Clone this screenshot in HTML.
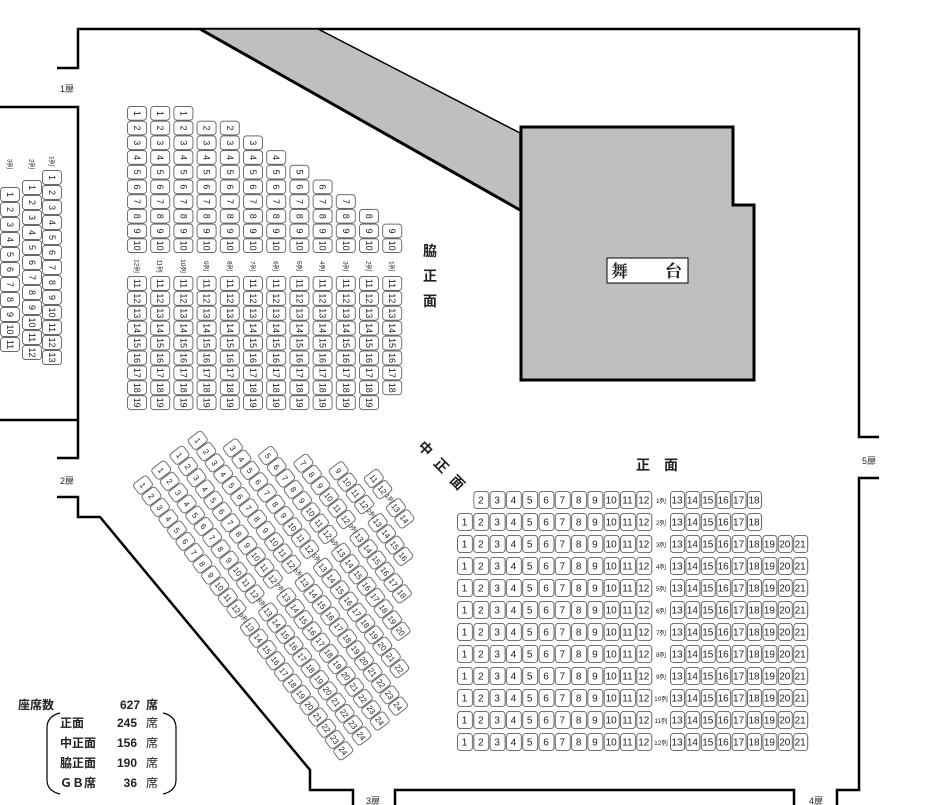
<!DOCTYPE html>
<html><head><meta charset="utf-8"><style>
body{margin:0;background:#fff}
svg{display:block}
text{font-family:"Liberation Sans","Noto Sans CJK JP",sans-serif;fill:#222}
.n{font-size:10px;text-anchor:middle}
.s{font-size:9px;text-anchor:middle}
.d{font-size:8px;text-anchor:middle}
.l{font-size:6.5px;text-anchor:middle}
.dr{font-size:9px}
.big{font-size:14px;font-weight:bold}
.lg{font-size:12px;font-weight:bold}
.lt{font-size:12px}
</style></head><body>
<svg width="945" height="805" viewBox="0 0 945 805" xmlns="http://www.w3.org/2000/svg">
<defs>
<pattern id="pf1" patternUnits="userSpaceOnUse" x="457" y="491" width="16.3" height="22"><rect x=".5" y=".5" width="15" height="17" rx="3" fill="#fff" stroke="#444" stroke-width=".8"/></pattern>
<pattern id="pf2" patternUnits="userSpaceOnUse" x="670" y="491" width="15.4" height="22"><rect x=".5" y=".5" width="14" height="17" rx="3" fill="#fff" stroke="#444" stroke-width=".8"/></pattern>
<pattern id="ps1" patternUnits="userSpaceOnUse" x="0" y="-10" width="14.7" height="20"><rect x=".5" y=".5" width="13.7" height="19" rx="3" fill="#fff" stroke="#444" stroke-width=".8"/></pattern>
<pattern id="ps2" patternUnits="userSpaceOnUse" x="0" y="-10" width="14.9" height="20"><rect x=".5" y=".5" width="13.9" height="19" rx="3" fill="#fff" stroke="#444" stroke-width=".8"/></pattern>
<pattern id="pg" patternUnits="userSpaceOnUse" x="0" y="-10" width="15" height="20"><rect x=".5" y=".5" width="14" height="19" rx="3" fill="#fff" stroke="#444" stroke-width=".8"/></pattern>
<pattern id="pd" patternUnits="userSpaceOnUse" x="0" y="-9" width="14.1" height="18"><rect x=".6" y=".5" width="12.9" height="17" rx="3" fill="#fff" stroke="#444" stroke-width=".8"/></pattern>
</defs>

<!-- walls -->
<g fill="none" stroke="#000" stroke-width="2.5">
<polyline points="57,68 78,68 78,29 859,29 859,437 879,437"/>
<polyline points="879,478 859,478 859,790 837,790 837,805"/>
<polyline points="395,805 395,790 794,790 794,805"/>
<polyline points="353,805 353,790 310,790 310,770 100,517 78,517 78,497 57,497"/>
<polyline points="0,107 78,107 78,458 57,458"/>
<line x1="0" y1="420" x2="78" y2="420"/>
</g>
<!-- bridge & stage -->
<polygon points="200,29 318,29 520,133 520,210" fill="#bfbfbf" stroke="#000" stroke-width="1.5"/>
<line x1="200" y1="29" x2="520" y2="210" stroke="#000" stroke-width="3"/>
<polygon points="521,127 733,127 733,205 754,205 754,380 521,380" fill="#bfbfbf" stroke="#000" stroke-width="3"/>
<rect x="607" y="258" width="81" height="25" fill="#fff" stroke="#000" stroke-width="1"/>
<text x="611" y="277" style="font-size:17px;font-weight:bold;font-family:'Noto Serif CJK SC','Noto Sans CJK JP',serif">舞</text>
<text x="665" y="277" style="font-size:17px;font-weight:bold;font-family:'Noto Serif CJK SC','Noto Sans CJK JP',serif">台</text>

<!-- door labels -->
<text class="dr" x="60" y="92">1扉</text>
<text class="dr" x="60" y="484">2扉</text>
<text class="dr" x="366" y="804">3扉</text>
<text class="dr" x="809" y="804">4扉</text>
<text class="dr" x="862" y="464">5扉</text>

<!-- section labels -->
<text class="big" x="423" y="256">脇</text>
<text class="big" x="423" y="281">正</text>
<text class="big" x="423" y="306">面</text>
<text class="big" x="636" y="470">正</text>
<text class="big" x="664" y="470">面</text>
<text class="big" transform="translate(422,452) rotate(45)" text-anchor="middle">中</text>
<text class="big" transform="translate(438,469) rotate(45)" text-anchor="middle">正</text>
<text class="big" transform="translate(454,486) rotate(45)" text-anchor="middle">面</text>

<!-- FRONT 正面 -->
<rect x="473.3" y="491" width="179.3" height="18" fill="url(#pf1)"/>
<rect x="670" y="491" width="92.4" height="18" fill="url(#pf2)"/>
<rect x="457" y="513" width="195.6" height="18" fill="url(#pf1)"/>
<rect x="670" y="513" width="92.4" height="18" fill="url(#pf2)"/>
<rect x="457" y="535" width="195.6" height="220" fill="url(#pf1)"/>
<rect x="670" y="535" width="138.6" height="220" fill="url(#pf2)"/>
<g transform="translate(0,503.5)">
<text class="n"><tspan x="480.8">2</tspan><tspan x="497.1">3</tspan><tspan x="513.4">4</tspan><tspan x="529.7">5</tspan><tspan x="546">6</tspan><tspan x="562.3">7</tspan><tspan x="578.6">8</tspan><tspan x="594.9">9</tspan><tspan x="611.2">10</tspan><tspan x="627.5">11</tspan><tspan x="643.8">12</tspan><tspan x="677">13</tspan><tspan x="692.4">14</tspan><tspan x="707.8">15</tspan><tspan x="723.2">16</tspan><tspan x="738.6">17</tspan><tspan x="754">18</tspan></text><text class="l" x="661" y="-0.5">1列</text></g>
<g transform="translate(0,525.5)">
<text class="n"><tspan x="464.5">1</tspan><tspan x="480.8">2</tspan><tspan x="497.1">3</tspan><tspan x="513.4">4</tspan><tspan x="529.7">5</tspan><tspan x="546">6</tspan><tspan x="562.3">7</tspan><tspan x="578.6">8</tspan><tspan x="594.9">9</tspan><tspan x="611.2">10</tspan><tspan x="627.5">11</tspan><tspan x="643.8">12</tspan><tspan x="677">13</tspan><tspan x="692.4">14</tspan><tspan x="707.8">15</tspan><tspan x="723.2">16</tspan><tspan x="738.6">17</tspan><tspan x="754">18</tspan></text><text class="l" x="661" y="-0.5">2列</text></g>
<g transform="translate(0,547.5)"><text class="n"><tspan x="464.5">1</tspan><tspan x="480.8">2</tspan><tspan x="497.1">3</tspan><tspan x="513.4">4</tspan><tspan x="529.7">5</tspan><tspan x="546">6</tspan><tspan x="562.3">7</tspan><tspan x="578.6">8</tspan><tspan x="594.9">9</tspan><tspan x="611.2">10</tspan><tspan x="627.5">11</tspan><tspan x="643.8">12</tspan><tspan x="677">13</tspan><tspan x="692.4">14</tspan><tspan x="707.8">15</tspan><tspan x="723.2">16</tspan><tspan x="738.6">17</tspan><tspan x="754">18</tspan><tspan x="769.4">19</tspan><tspan x="784.8">20</tspan><tspan x="800.2">21</tspan></text><text class="l" x="661" y="-0.5">3列</text></g>
<g transform="translate(0,569.5)"><text class="n"><tspan x="464.5">1</tspan><tspan x="480.8">2</tspan><tspan x="497.1">3</tspan><tspan x="513.4">4</tspan><tspan x="529.7">5</tspan><tspan x="546">6</tspan><tspan x="562.3">7</tspan><tspan x="578.6">8</tspan><tspan x="594.9">9</tspan><tspan x="611.2">10</tspan><tspan x="627.5">11</tspan><tspan x="643.8">12</tspan><tspan x="677">13</tspan><tspan x="692.4">14</tspan><tspan x="707.8">15</tspan><tspan x="723.2">16</tspan><tspan x="738.6">17</tspan><tspan x="754">18</tspan><tspan x="769.4">19</tspan><tspan x="784.8">20</tspan><tspan x="800.2">21</tspan></text><text class="l" x="661" y="-0.5">4列</text></g>
<g transform="translate(0,591.5)"><text class="n"><tspan x="464.5">1</tspan><tspan x="480.8">2</tspan><tspan x="497.1">3</tspan><tspan x="513.4">4</tspan><tspan x="529.7">5</tspan><tspan x="546">6</tspan><tspan x="562.3">7</tspan><tspan x="578.6">8</tspan><tspan x="594.9">9</tspan><tspan x="611.2">10</tspan><tspan x="627.5">11</tspan><tspan x="643.8">12</tspan><tspan x="677">13</tspan><tspan x="692.4">14</tspan><tspan x="707.8">15</tspan><tspan x="723.2">16</tspan><tspan x="738.6">17</tspan><tspan x="754">18</tspan><tspan x="769.4">19</tspan><tspan x="784.8">20</tspan><tspan x="800.2">21</tspan></text><text class="l" x="661" y="-0.5">5列</text></g>
<g transform="translate(0,613.5)"><text class="n"><tspan x="464.5">1</tspan><tspan x="480.8">2</tspan><tspan x="497.1">3</tspan><tspan x="513.4">4</tspan><tspan x="529.7">5</tspan><tspan x="546">6</tspan><tspan x="562.3">7</tspan><tspan x="578.6">8</tspan><tspan x="594.9">9</tspan><tspan x="611.2">10</tspan><tspan x="627.5">11</tspan><tspan x="643.8">12</tspan><tspan x="677">13</tspan><tspan x="692.4">14</tspan><tspan x="707.8">15</tspan><tspan x="723.2">16</tspan><tspan x="738.6">17</tspan><tspan x="754">18</tspan><tspan x="769.4">19</tspan><tspan x="784.8">20</tspan><tspan x="800.2">21</tspan></text><text class="l" x="661" y="-0.5">6列</text></g>
<g transform="translate(0,635.5)"><text class="n"><tspan x="464.5">1</tspan><tspan x="480.8">2</tspan><tspan x="497.1">3</tspan><tspan x="513.4">4</tspan><tspan x="529.7">5</tspan><tspan x="546">6</tspan><tspan x="562.3">7</tspan><tspan x="578.6">8</tspan><tspan x="594.9">9</tspan><tspan x="611.2">10</tspan><tspan x="627.5">11</tspan><tspan x="643.8">12</tspan><tspan x="677">13</tspan><tspan x="692.4">14</tspan><tspan x="707.8">15</tspan><tspan x="723.2">16</tspan><tspan x="738.6">17</tspan><tspan x="754">18</tspan><tspan x="769.4">19</tspan><tspan x="784.8">20</tspan><tspan x="800.2">21</tspan></text><text class="l" x="661" y="-0.5">7列</text></g>
<g transform="translate(0,657.5)"><text class="n"><tspan x="464.5">1</tspan><tspan x="480.8">2</tspan><tspan x="497.1">3</tspan><tspan x="513.4">4</tspan><tspan x="529.7">5</tspan><tspan x="546">6</tspan><tspan x="562.3">7</tspan><tspan x="578.6">8</tspan><tspan x="594.9">9</tspan><tspan x="611.2">10</tspan><tspan x="627.5">11</tspan><tspan x="643.8">12</tspan><tspan x="677">13</tspan><tspan x="692.4">14</tspan><tspan x="707.8">15</tspan><tspan x="723.2">16</tspan><tspan x="738.6">17</tspan><tspan x="754">18</tspan><tspan x="769.4">19</tspan><tspan x="784.8">20</tspan><tspan x="800.2">21</tspan></text><text class="l" x="661" y="-0.5">8列</text></g>
<g transform="translate(0,679.5)"><text class="n"><tspan x="464.5">1</tspan><tspan x="480.8">2</tspan><tspan x="497.1">3</tspan><tspan x="513.4">4</tspan><tspan x="529.7">5</tspan><tspan x="546">6</tspan><tspan x="562.3">7</tspan><tspan x="578.6">8</tspan><tspan x="594.9">9</tspan><tspan x="611.2">10</tspan><tspan x="627.5">11</tspan><tspan x="643.8">12</tspan><tspan x="677">13</tspan><tspan x="692.4">14</tspan><tspan x="707.8">15</tspan><tspan x="723.2">16</tspan><tspan x="738.6">17</tspan><tspan x="754">18</tspan><tspan x="769.4">19</tspan><tspan x="784.8">20</tspan><tspan x="800.2">21</tspan></text><text class="l" x="661" y="-0.5">9列</text></g>
<g transform="translate(0,701.5)"><text class="n"><tspan x="464.5">1</tspan><tspan x="480.8">2</tspan><tspan x="497.1">3</tspan><tspan x="513.4">4</tspan><tspan x="529.7">5</tspan><tspan x="546">6</tspan><tspan x="562.3">7</tspan><tspan x="578.6">8</tspan><tspan x="594.9">9</tspan><tspan x="611.2">10</tspan><tspan x="627.5">11</tspan><tspan x="643.8">12</tspan><tspan x="677">13</tspan><tspan x="692.4">14</tspan><tspan x="707.8">15</tspan><tspan x="723.2">16</tspan><tspan x="738.6">17</tspan><tspan x="754">18</tspan><tspan x="769.4">19</tspan><tspan x="784.8">20</tspan><tspan x="800.2">21</tspan></text><text class="l" x="661" y="-0.5">10列</text></g>
<g transform="translate(0,723.5)"><text class="n"><tspan x="464.5">1</tspan><tspan x="480.8">2</tspan><tspan x="497.1">3</tspan><tspan x="513.4">4</tspan><tspan x="529.7">5</tspan><tspan x="546">6</tspan><tspan x="562.3">7</tspan><tspan x="578.6">8</tspan><tspan x="594.9">9</tspan><tspan x="611.2">10</tspan><tspan x="627.5">11</tspan><tspan x="643.8">12</tspan><tspan x="677">13</tspan><tspan x="692.4">14</tspan><tspan x="707.8">15</tspan><tspan x="723.2">16</tspan><tspan x="738.6">17</tspan><tspan x="754">18</tspan><tspan x="769.4">19</tspan><tspan x="784.8">20</tspan><tspan x="800.2">21</tspan></text><text class="l" x="661" y="-0.5">11列</text></g>
<g transform="translate(0,745.5)"><text class="n"><tspan x="464.5">1</tspan><tspan x="480.8">2</tspan><tspan x="497.1">3</tspan><tspan x="513.4">4</tspan><tspan x="529.7">5</tspan><tspan x="546">6</tspan><tspan x="562.3">7</tspan><tspan x="578.6">8</tspan><tspan x="594.9">9</tspan><tspan x="611.2">10</tspan><tspan x="627.5">11</tspan><tspan x="643.8">12</tspan><tspan x="677">13</tspan><tspan x="692.4">14</tspan><tspan x="707.8">15</tspan><tspan x="723.2">16</tspan><tspan x="738.6">17</tspan><tspan x="754">18</tspan><tspan x="769.4">19</tspan><tspan x="784.8">20</tspan><tspan x="800.2">21</tspan></text><text class="l" x="661" y="-0.5">12列</text></g>

<!-- SIDE 脇正面 -->
<g transform="translate(137,106) rotate(90)"><rect x="0" y="-10" width="147" height="20" fill="url(#ps1)"/><text class="s" y="3"><tspan x="7.35">1</tspan><tspan x="22.05">2</tspan><tspan x="36.75">3</tspan><tspan x="51.45">4</tspan><tspan x="66.15">5</tspan><tspan x="80.85">6</tspan><tspan x="95.55">7</tspan><tspan x="110.25">8</tspan><tspan x="124.95">9</tspan><tspan x="139.65">10</tspan></text><text class="l" x="160" y="2.5">12列</text></g>
<g transform="translate(160.2,106) rotate(90)"><rect x="0" y="-10" width="147" height="20" fill="url(#ps1)"/><text class="s" y="3"><tspan x="7.35">1</tspan><tspan x="22.05">2</tspan><tspan x="36.75">3</tspan><tspan x="51.45">4</tspan><tspan x="66.15">5</tspan><tspan x="80.85">6</tspan><tspan x="95.55">7</tspan><tspan x="110.25">8</tspan><tspan x="124.95">9</tspan><tspan x="139.65">10</tspan></text><text class="l" x="160" y="2.5">11列</text></g>
<g transform="translate(183.4,106) rotate(90)"><rect x="0" y="-10" width="147" height="20" fill="url(#ps1)"/><text class="s" y="3"><tspan x="7.35">1</tspan><tspan x="22.05">2</tspan><tspan x="36.75">3</tspan><tspan x="51.45">4</tspan><tspan x="66.15">5</tspan><tspan x="80.85">6</tspan><tspan x="95.55">7</tspan><tspan x="110.25">8</tspan><tspan x="124.95">9</tspan><tspan x="139.65">10</tspan></text><text class="l" x="160" y="2.5">10列</text></g>
<g transform="translate(206.6,106) rotate(90)"><rect x="14.7" y="-10" width="132.3" height="20" fill="url(#ps1)"/><text class="s" y="3"><tspan x="22.05">2</tspan><tspan x="36.75">3</tspan><tspan x="51.45">4</tspan><tspan x="66.15">5</tspan><tspan x="80.85">6</tspan><tspan x="95.55">7</tspan><tspan x="110.25">8</tspan><tspan x="124.95">9</tspan><tspan x="139.65">10</tspan></text><text class="l" x="160" y="2.5">9列</text></g>
<g transform="translate(229.8,106) rotate(90)"><rect x="14.7" y="-10" width="132.3" height="20" fill="url(#ps1)"/><text class="s" y="3"><tspan x="22.05">2</tspan><tspan x="36.75">3</tspan><tspan x="51.45">4</tspan><tspan x="66.15">5</tspan><tspan x="80.85">6</tspan><tspan x="95.55">7</tspan><tspan x="110.25">8</tspan><tspan x="124.95">9</tspan><tspan x="139.65">10</tspan></text><text class="l" x="160" y="2.5">8列</text></g>
<g transform="translate(253,106) rotate(90)"><rect x="29.4" y="-10" width="117.6" height="20" fill="url(#ps1)"/><text class="s" y="3"><tspan x="36.75">3</tspan><tspan x="51.45">4</tspan><tspan x="66.15">5</tspan><tspan x="80.85">6</tspan><tspan x="95.55">7</tspan><tspan x="110.25">8</tspan><tspan x="124.95">9</tspan><tspan x="139.65">10</tspan></text><text class="l" x="160" y="2.5">7列</text></g>
<g transform="translate(276.2,106) rotate(90)"><rect x="44.1" y="-10" width="102.9" height="20" fill="url(#ps1)"/><text class="s" y="3"><tspan x="51.45">4</tspan><tspan x="66.15">5</tspan><tspan x="80.85">6</tspan><tspan x="95.55">7</tspan><tspan x="110.25">8</tspan><tspan x="124.95">9</tspan><tspan x="139.65">10</tspan></text><text class="l" x="160" y="2.5">6列</text></g>
<g transform="translate(299.4,106) rotate(90)"><rect x="58.8" y="-10" width="88.2" height="20" fill="url(#ps1)"/><text class="s" y="3"><tspan x="66.15">5</tspan><tspan x="80.85">6</tspan><tspan x="95.55">7</tspan><tspan x="110.25">8</tspan><tspan x="124.95">9</tspan><tspan x="139.65">10</tspan></text><text class="l" x="160" y="2.5">5列</text></g>
<g transform="translate(322.6,106) rotate(90)"><rect x="73.5" y="-10" width="73.5" height="20" fill="url(#ps1)"/><text class="s" y="3"><tspan x="80.85">6</tspan><tspan x="95.55">7</tspan><tspan x="110.25">8</tspan><tspan x="124.95">9</tspan><tspan x="139.65">10</tspan></text><text class="l" x="160" y="2.5">4列</text></g>
<g transform="translate(345.8,106) rotate(90)"><rect x="88.2" y="-10" width="58.8" height="20" fill="url(#ps1)"/><text class="s" y="3"><tspan x="95.55">7</tspan><tspan x="110.25">8</tspan><tspan x="124.95">9</tspan><tspan x="139.65">10</tspan></text><text class="l" x="160" y="2.5">3列</text></g>
<g transform="translate(369,106) rotate(90)"><rect x="102.9" y="-10" width="44.1" height="20" fill="url(#ps1)"/><text class="s" y="3"><tspan x="110.25">8</tspan><tspan x="124.95">9</tspan><tspan x="139.65">10</tspan></text><text class="l" x="160" y="2.5">2列</text></g>
<g transform="translate(392.2,106) rotate(90)"><rect x="117.6" y="-10" width="29.4" height="20" fill="url(#ps1)"/><text class="s" y="3"><tspan x="124.95">9</tspan><tspan x="139.65">10</tspan></text><text class="l" x="160" y="2.5">1列</text></g>

<g transform="translate(137,276) rotate(90)"><rect x="0" y="-10" width="134.1" height="20" fill="url(#ps2)"/><text class="s" y="3"><tspan x="7.45">11</tspan><tspan x="22.35">12</tspan><tspan x="37.25">13</tspan><tspan x="52.15">14</tspan><tspan x="67.05">15</tspan><tspan x="81.95">16</tspan><tspan x="96.85">17</tspan><tspan x="111.75">18</tspan><tspan x="126.65">19</tspan></text></g>
<g transform="translate(160.2,276) rotate(90)"><rect x="0" y="-10" width="134.1" height="20" fill="url(#ps2)"/><text class="s" y="3"><tspan x="7.45">11</tspan><tspan x="22.35">12</tspan><tspan x="37.25">13</tspan><tspan x="52.15">14</tspan><tspan x="67.05">15</tspan><tspan x="81.95">16</tspan><tspan x="96.85">17</tspan><tspan x="111.75">18</tspan><tspan x="126.65">19</tspan></text></g>
<g transform="translate(183.4,276) rotate(90)"><rect x="0" y="-10" width="134.1" height="20" fill="url(#ps2)"/><text class="s" y="3"><tspan x="7.45">11</tspan><tspan x="22.35">12</tspan><tspan x="37.25">13</tspan><tspan x="52.15">14</tspan><tspan x="67.05">15</tspan><tspan x="81.95">16</tspan><tspan x="96.85">17</tspan><tspan x="111.75">18</tspan><tspan x="126.65">19</tspan></text></g>
<g transform="translate(206.6,276) rotate(90)"><rect x="0" y="-10" width="134.1" height="20" fill="url(#ps2)"/><text class="s" y="3"><tspan x="7.45">11</tspan><tspan x="22.35">12</tspan><tspan x="37.25">13</tspan><tspan x="52.15">14</tspan><tspan x="67.05">15</tspan><tspan x="81.95">16</tspan><tspan x="96.85">17</tspan><tspan x="111.75">18</tspan><tspan x="126.65">19</tspan></text></g>
<g transform="translate(229.8,276) rotate(90)"><rect x="0" y="-10" width="134.1" height="20" fill="url(#ps2)"/><text class="s" y="3"><tspan x="7.45">11</tspan><tspan x="22.35">12</tspan><tspan x="37.25">13</tspan><tspan x="52.15">14</tspan><tspan x="67.05">15</tspan><tspan x="81.95">16</tspan><tspan x="96.85">17</tspan><tspan x="111.75">18</tspan><tspan x="126.65">19</tspan></text></g>
<g transform="translate(253,276) rotate(90)"><rect x="0" y="-10" width="134.1" height="20" fill="url(#ps2)"/><text class="s" y="3"><tspan x="7.45">11</tspan><tspan x="22.35">12</tspan><tspan x="37.25">13</tspan><tspan x="52.15">14</tspan><tspan x="67.05">15</tspan><tspan x="81.95">16</tspan><tspan x="96.85">17</tspan><tspan x="111.75">18</tspan><tspan x="126.65">19</tspan></text></g>
<g transform="translate(276.2,276) rotate(90)"><rect x="0" y="-10" width="134.1" height="20" fill="url(#ps2)"/><text class="s" y="3"><tspan x="7.45">11</tspan><tspan x="22.35">12</tspan><tspan x="37.25">13</tspan><tspan x="52.15">14</tspan><tspan x="67.05">15</tspan><tspan x="81.95">16</tspan><tspan x="96.85">17</tspan><tspan x="111.75">18</tspan><tspan x="126.65">19</tspan></text></g>
<g transform="translate(299.4,276) rotate(90)"><rect x="0" y="-10" width="134.1" height="20" fill="url(#ps2)"/><text class="s" y="3"><tspan x="7.45">11</tspan><tspan x="22.35">12</tspan><tspan x="37.25">13</tspan><tspan x="52.15">14</tspan><tspan x="67.05">15</tspan><tspan x="81.95">16</tspan><tspan x="96.85">17</tspan><tspan x="111.75">18</tspan><tspan x="126.65">19</tspan></text></g>
<g transform="translate(322.6,276) rotate(90)"><rect x="0" y="-10" width="134.1" height="20" fill="url(#ps2)"/><text class="s" y="3"><tspan x="7.45">11</tspan><tspan x="22.35">12</tspan><tspan x="37.25">13</tspan><tspan x="52.15">14</tspan><tspan x="67.05">15</tspan><tspan x="81.95">16</tspan><tspan x="96.85">17</tspan><tspan x="111.75">18</tspan><tspan x="126.65">19</tspan></text></g>
<g transform="translate(345.8,276) rotate(90)"><rect x="0" y="-10" width="134.1" height="20" fill="url(#ps2)"/><text class="s" y="3"><tspan x="7.45">11</tspan><tspan x="22.35">12</tspan><tspan x="37.25">13</tspan><tspan x="52.15">14</tspan><tspan x="67.05">15</tspan><tspan x="81.95">16</tspan><tspan x="96.85">17</tspan><tspan x="111.75">18</tspan><tspan x="126.65">19</tspan></text></g>
<g transform="translate(369,276) rotate(90)"><rect x="0" y="-10" width="134.1" height="20" fill="url(#ps2)"/><text class="s" y="3"><tspan x="7.45">11</tspan><tspan x="22.35">12</tspan><tspan x="37.25">13</tspan><tspan x="52.15">14</tspan><tspan x="67.05">15</tspan><tspan x="81.95">16</tspan><tspan x="96.85">17</tspan><tspan x="111.75">18</tspan><tspan x="126.65">19</tspan></text></g>
<g transform="translate(392.2,276) rotate(90)"><rect x="0" y="-10" width="119.2" height="20" fill="url(#ps2)"/><text class="s" y="3"><tspan x="7.45">11</tspan><tspan x="22.35">12</tspan><tspan x="37.25">13</tspan><tspan x="52.15">14</tspan><tspan x="67.05">15</tspan><tspan x="81.95">16</tspan><tspan x="96.85">17</tspan><tspan x="111.75">18</tspan></text></g>

<!-- GB -->
<g transform="translate(52,170) rotate(90)"><rect x="0" y="-10" width="195" height="20" fill="url(#pg)"/><text class="s" y="3"><tspan x="7.5">1</tspan><tspan x="22.5">2</tspan><tspan x="37.5">3</tspan><tspan x="52.5">4</tspan><tspan x="67.5">5</tspan><tspan x="82.5">6</tspan><tspan x="97.5">7</tspan><tspan x="112.5">8</tspan><tspan x="127.5">9</tspan><tspan x="142.5">10</tspan><tspan x="157.5">11</tspan><tspan x="172.5">12</tspan><tspan x="187.5">13</tspan></text><text class="l" x="-9" y="2.5">1列</text></g>
<g transform="translate(32,180) rotate(90)"><rect x="0" y="-10" width="180" height="20" fill="url(#pg)"/><text class="s" y="3"><tspan x="7.5">1</tspan><tspan x="22.5">2</tspan><tspan x="37.5">3</tspan><tspan x="52.5">4</tspan><tspan x="67.5">5</tspan><tspan x="82.5">6</tspan><tspan x="97.5">7</tspan><tspan x="112.5">8</tspan><tspan x="127.5">9</tspan><tspan x="142.5">10</tspan><tspan x="157.5">11</tspan><tspan x="172.5">12</tspan></text><text class="l" x="-16" y="2.5">2列</text></g>
<g transform="translate(10,187) rotate(90)"><rect x="0" y="-10" width="165" height="20" fill="url(#pg)"/><text class="s" y="3"><tspan x="7.5">1</tspan><tspan x="22.5">2</tspan><tspan x="37.5">3</tspan><tspan x="52.5">4</tspan><tspan x="67.5">5</tspan><tspan x="82.5">6</tspan><tspan x="97.5">7</tspan><tspan x="112.5">8</tspan><tspan x="127.5">9</tspan><tspan x="142.5">10</tspan><tspan x="157.5">11</tspan></text><text class="l" x="-23" y="2.5">3列</text></g>

<!-- DIAGONAL 中正面 -->
<g transform="translate(289,365.8) rotate(53) translate(-7.05,0)"><rect x="141" y="-9" width="28.2" height="18" fill="url(#pd)"/><text class="d" y="3"><tspan x="148.05">11</tspan><tspan x="162.15">12</tspan></text><text class="l" x="173.5" y="2">1列</text><g transform="translate(177.7,0)"><rect x="0" y="-9" width="28.2" height="18" fill="url(#pd)"/><text class="d" y="3"><tspan x="7.05">13</tspan><tspan x="21.15">14</tspan></text></g></g>
<g transform="translate(270.75,380.7) rotate(53) translate(-7.05,0)"><rect x="112.8" y="-9" width="56.4" height="18" fill="url(#pd)"/><text class="d" y="3"><tspan x="119.85">9</tspan><tspan x="133.95">10</tspan><tspan x="148.05">11</tspan><tspan x="162.15">12</tspan></text><text class="l" x="173.5" y="2">2列</text><g transform="translate(177.7,0)"><rect x="0" y="-9" width="56.4" height="18" fill="url(#pd)"/><text class="d" y="3"><tspan x="7.05">13</tspan><tspan x="21.15">14</tspan><tspan x="35.25">15</tspan><tspan x="49.35">16</tspan></text></g></g>
<g transform="translate(252.5,395.6) rotate(53) translate(-7.05,0)"><rect x="84.6" y="-9" width="84.6" height="18" fill="url(#pd)"/><text class="d" y="3"><tspan x="91.65">7</tspan><tspan x="105.75">8</tspan><tspan x="119.85">9</tspan><tspan x="133.95">10</tspan><tspan x="148.05">11</tspan><tspan x="162.15">12</tspan></text><text class="l" x="173.5" y="2">3列</text><g transform="translate(177.7,0)"><rect x="0" y="-9" width="84.6" height="18" fill="url(#pd)"/><text class="d" y="3"><tspan x="7.05">13</tspan><tspan x="21.15">14</tspan><tspan x="35.25">15</tspan><tspan x="49.35">16</tspan><tspan x="63.45">17</tspan><tspan x="77.55">18</tspan></text></g></g>
<g transform="translate(234.25,410.5) rotate(53) translate(-7.05,0)"><rect x="56.4" y="-9" width="112.8" height="18" fill="url(#pd)"/><text class="d" y="3"><tspan x="63.45">5</tspan><tspan x="77.55">6</tspan><tspan x="91.65">7</tspan><tspan x="105.75">8</tspan><tspan x="119.85">9</tspan><tspan x="133.95">10</tspan><tspan x="148.05">11</tspan><tspan x="162.15">12</tspan></text><text class="l" x="173.5" y="2">4列</text><g transform="translate(177.7,0)"><rect x="0" y="-9" width="112.8" height="18" fill="url(#pd)"/><text class="d" y="3"><tspan x="7.05">13</tspan><tspan x="21.15">14</tspan><tspan x="35.25">15</tspan><tspan x="49.35">16</tspan><tspan x="63.45">17</tspan><tspan x="77.55">18</tspan><tspan x="91.65">19</tspan><tspan x="105.75">20</tspan></text></g></g>
<g transform="translate(216,425.4) rotate(53) translate(-7.05,0)"><rect x="28.2" y="-9" width="141" height="18" fill="url(#pd)"/><text class="d" y="3"><tspan x="35.25">3</tspan><tspan x="49.35">4</tspan><tspan x="63.45">5</tspan><tspan x="77.55">6</tspan><tspan x="91.65">7</tspan><tspan x="105.75">8</tspan><tspan x="119.85">9</tspan><tspan x="133.95">10</tspan><tspan x="148.05">11</tspan><tspan x="162.15">12</tspan></text><text class="l" x="173.5" y="2">5列</text><g transform="translate(177.7,0)"><rect x="0" y="-9" width="141" height="18" fill="url(#pd)"/><text class="d" y="3"><tspan x="7.05">13</tspan><tspan x="21.15">14</tspan><tspan x="35.25">15</tspan><tspan x="49.35">16</tspan><tspan x="63.45">17</tspan><tspan x="77.55">18</tspan><tspan x="91.65">19</tspan><tspan x="105.75">20</tspan><tspan x="119.85">21</tspan><tspan x="133.95">22</tspan></text></g></g>
<g transform="translate(197.75,440.3) rotate(53) translate(-7.05,0)"><rect x="0" y="-9" width="169.2" height="18" fill="url(#pd)"/><text class="d" y="3"><tspan x="7.05">1</tspan><tspan x="21.15">2</tspan><tspan x="35.25">3</tspan><tspan x="49.35">4</tspan><tspan x="63.45">5</tspan><tspan x="77.55">6</tspan><tspan x="91.65">7</tspan><tspan x="105.75">8</tspan><tspan x="119.85">9</tspan><tspan x="133.95">10</tspan><tspan x="148.05">11</tspan><tspan x="162.15">12</tspan></text><text class="l" x="173.5" y="2">6列</text><g transform="translate(177.7,0)"><rect x="0" y="-9" width="169.2" height="18" fill="url(#pd)"/><text class="d" y="3"><tspan x="7.05">13</tspan><tspan x="21.15">14</tspan><tspan x="35.25">15</tspan><tspan x="49.35">16</tspan><tspan x="63.45">17</tspan><tspan x="77.55">18</tspan><tspan x="91.65">19</tspan><tspan x="105.75">20</tspan><tspan x="119.85">21</tspan><tspan x="133.95">22</tspan><tspan x="148.05">23</tspan><tspan x="162.15">24</tspan></text></g></g>
<g transform="translate(179.5,455.2) rotate(53) translate(-7.05,0)"><rect x="0" y="-9" width="169.2" height="18" fill="url(#pd)"/><text class="d" y="3"><tspan x="7.05">1</tspan><tspan x="21.15">2</tspan><tspan x="35.25">3</tspan><tspan x="49.35">4</tspan><tspan x="63.45">5</tspan><tspan x="77.55">6</tspan><tspan x="91.65">7</tspan><tspan x="105.75">8</tspan><tspan x="119.85">9</tspan><tspan x="133.95">10</tspan><tspan x="148.05">11</tspan><tspan x="162.15">12</tspan></text><text class="l" x="173.5" y="2">7列</text><g transform="translate(177.7,0)"><rect x="0" y="-9" width="169.2" height="18" fill="url(#pd)"/><text class="d" y="3"><tspan x="7.05">13</tspan><tspan x="21.15">14</tspan><tspan x="35.25">15</tspan><tspan x="49.35">16</tspan><tspan x="63.45">17</tspan><tspan x="77.55">18</tspan><tspan x="91.65">19</tspan><tspan x="105.75">20</tspan><tspan x="119.85">21</tspan><tspan x="133.95">22</tspan><tspan x="148.05">23</tspan><tspan x="162.15">24</tspan></text></g></g>
<g transform="translate(161.25,470.1) rotate(53) translate(-7.05,0)"><rect x="0" y="-9" width="169.2" height="18" fill="url(#pd)"/><text class="d" y="3"><tspan x="7.05">1</tspan><tspan x="21.15">2</tspan><tspan x="35.25">3</tspan><tspan x="49.35">4</tspan><tspan x="63.45">5</tspan><tspan x="77.55">6</tspan><tspan x="91.65">7</tspan><tspan x="105.75">8</tspan><tspan x="119.85">9</tspan><tspan x="133.95">10</tspan><tspan x="148.05">11</tspan><tspan x="162.15">12</tspan></text><text class="l" x="173.5" y="2">8列</text><g transform="translate(177.7,0)"><rect x="0" y="-9" width="169.2" height="18" fill="url(#pd)"/><text class="d" y="3"><tspan x="7.05">13</tspan><tspan x="21.15">14</tspan><tspan x="35.25">15</tspan><tspan x="49.35">16</tspan><tspan x="63.45">17</tspan><tspan x="77.55">18</tspan><tspan x="91.65">19</tspan><tspan x="105.75">20</tspan><tspan x="119.85">21</tspan><tspan x="133.95">22</tspan><tspan x="148.05">23</tspan><tspan x="162.15">24</tspan></text></g></g>
<g transform="translate(143,485) rotate(53) translate(-7.05,0)"><rect x="0" y="-9" width="169.2" height="18" fill="url(#pd)"/><text class="d" y="3"><tspan x="7.05">1</tspan><tspan x="21.15">2</tspan><tspan x="35.25">3</tspan><tspan x="49.35">4</tspan><tspan x="63.45">5</tspan><tspan x="77.55">6</tspan><tspan x="91.65">7</tspan><tspan x="105.75">8</tspan><tspan x="119.85">9</tspan><tspan x="133.95">10</tspan><tspan x="148.05">11</tspan><tspan x="162.15">12</tspan></text><text class="l" x="173.5" y="2">9列</text><g transform="translate(177.7,0)"><rect x="0" y="-9" width="169.2" height="18" fill="url(#pd)"/><text class="d" y="3"><tspan x="7.05">13</tspan><tspan x="21.15">14</tspan><tspan x="35.25">15</tspan><tspan x="49.35">16</tspan><tspan x="63.45">17</tspan><tspan x="77.55">18</tspan><tspan x="91.65">19</tspan><tspan x="105.75">20</tspan><tspan x="119.85">21</tspan><tspan x="133.95">22</tspan><tspan x="148.05">23</tspan><tspan x="162.15">24</tspan></text></g></g>

<!-- legend -->
<text class="lg" x="18" y="709">座席数</text>
<text class="lg" x="140" y="709" text-anchor="end">627</text>
<text class="lg" x="146" y="709">席</text>
<text class="lg" x="60" y="727">正面</text>
<text class="lg" x="60" y="747">中正面</text>
<text class="lg" x="60" y="767">脇正面</text>
<text class="lg" x="60" y="787">ＧＢ席</text>
<text class="lg" x="137" y="727" text-anchor="end">245</text>
<text class="lg" x="137" y="747" text-anchor="end">156</text>
<text class="lg" x="137" y="767" text-anchor="end">190</text>
<text class="lg" x="137" y="787" text-anchor="end">36</text>
<text class="lt" x="146" y="727">席</text>
<text class="lt" x="146" y="747">席</text>
<text class="lt" x="146" y="767">席</text>
<text class="lt" x="146" y="787">席</text>
<path d="M60,713 Q47,716 47,728 L47,780 Q47,791 60,794" fill="none" stroke="#000" stroke-width="1.2"/>
<path d="M163,713 Q176,716 176,728 L176,780 Q176,791 163,794" fill="none" stroke="#000" stroke-width="1.2"/>
</svg>
</body></html>
